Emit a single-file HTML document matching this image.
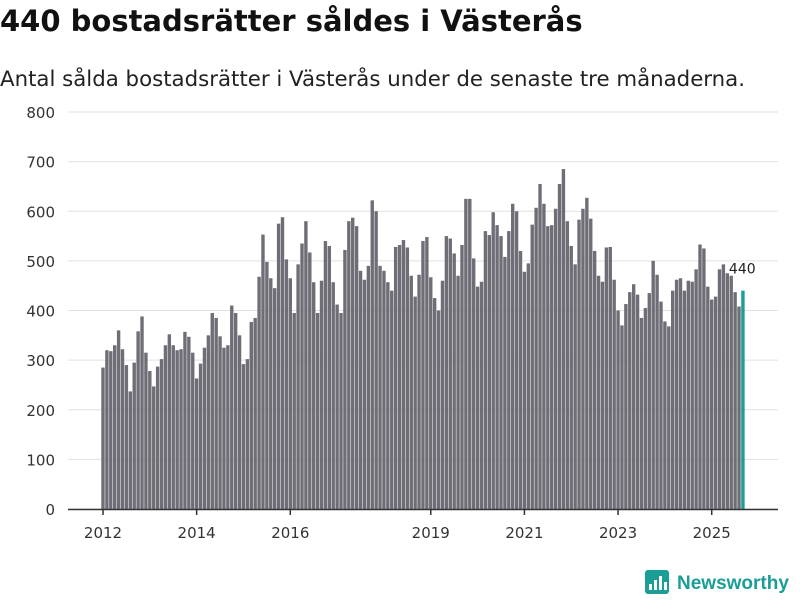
<!DOCTYPE html>
<html><head><meta charset="utf-8"><style>
body{margin:0;background:#fff;width:800px;height:600px;overflow:hidden;font-family:"DejaVu Sans","Liberation Sans",sans-serif}
#t{position:absolute;left:0;top:4px;font-size:29px;font-weight:bold;color:#111;white-space:nowrap}
#s{position:absolute;left:0;top:67px;font-size:21.3px;color:#222;white-space:nowrap}
svg{position:absolute;left:0;top:0}
</style></head><body>
<div id="t">440 bostadsrätter såldes i Västerås</div>
<div id="s">Antal sålda bostadsrätter i Västerås under de senaste tre månaderna.</div>
<svg id="c" width="800" height="600"></svg>
<script>
const values=[285,320,318,330,360,322,290,237,295,358,388,315,
278,247,287,302,330,352,330,320,322,357,347,315,
263,293,325,350,395,385,348,325,330,410,395,350,
292,302,377,385,468,553,498,465,445,575,588,503,
465,395,493,535,580,517,457,395,460,540,530,457,
412,395,522,580,587,570,480,462,490,622,600,490,
480,457,440,528,532,542,527,470,428,472,540,548,
467,425,400,460,550,545,515,470,532,625,625,505,
448,458,560,552,598,572,550,508,560,615,600,520,
478,495,573,607,655,615,570,572,605,655,685,580,
530,493,583,605,627,585,520,470,458,527,528,462,
400,370,413,437,453,432,385,405,435,500,472,418,
378,368,440,462,465,440,460,458,483,533,525,448,
422,428,483,493,475,470,437,408,440];
const yTicks=[0,100,200,300,400,500,600,700,800];
const xTickYears=[2012,2014,2016,2019,2021,2023,2025];
const startYear=2012;
const NS="http://www.w3.org/2000/svg",svg=document.getElementById('c');
const y=v=>509-v*0.49625, x=i=>103+i*3.902;
function mk(t,a,p){const e=document.createElementNS(NS,t);for(const k in a)e.setAttribute(k,a[k]);(p||svg).appendChild(e);return e;}
yTicks.forEach(v=>{
 const l=mk('line',{x1:68,x2:778,y1:y(v),y2:y(v),stroke:'#e0e0e0','stroke-width':1});
 
 
 const t=mk('text',{x:55,y:y(v)+6,'text-anchor':'end','font-size':15,fill:'#333'});t.textContent=v;
 
 
});
values.forEach((v,i)=>{
 const last=i===values.length-1;
 const r=mk('rect',{x:x(i)-1.7,y:y(v),width:3.4,height:509-y(v),fill:last?'#1a9e96':'#6f6e76'});
 
 
});
const lv=values[values.length-1];
const lb=mk('text',{x:x(values.length-1)-14,y:y(lv)-17,'font-size':14,fill:'#222',stroke:'#fff','stroke-width':3,'paint-order':'stroke'});lb.textContent=lv;


const ax=mk('line',{x1:68,x2:778,y1:509.5,y2:509.5,stroke:'#333','stroke-width':1.5});


xTickYears.forEach(yr=>{
 const px=x((yr-startYear)*12);
 mk('line',{x1:px,x2:px,y1:509,y2:515,stroke:'#333','stroke-width':1.5});
 const t=mk('text',{x:px,y:538,'text-anchor':'middle','font-size':15,fill:'#333'});t.textContent=yr;
 
 
});
const g=mk('g',{});


mk('rect',{x:645,y:570,width:24,height:24,rx:3,fill:'#1a9e96'},g);
[[649,584,3,6],[654,580,3,10],[659,576,3,14],[664,582,3,8]].forEach(b=>mk('rect',{x:b[0],y:b[1],width:b[2],height:b[3],fill:'#fff'},g));
const lt=mk('text',{x:677,y:589,'font-size':19,'font-weight':'bold',fill:'#1a9e96','font-family':'Liberation Sans'},g);lt.textContent='Newsworthy';
</script>
</body></html>
